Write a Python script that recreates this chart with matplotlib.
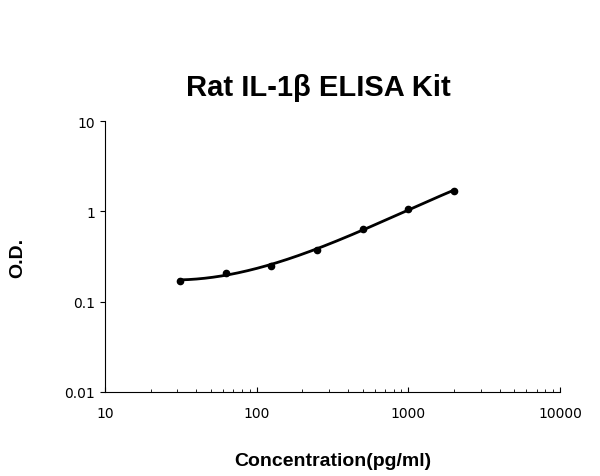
import numpy as np
import matplotlib
matplotlib.use("Agg")
import matplotlib.pyplot as plt

conc = [31.25, 62.5, 125, 250, 500, 1000, 2000]
od = [0.17, 0.21, 0.25, 0.37, 0.64, 1.05, 1.70]

fig = plt.figure(figsize=(6, 4.77), dpi=100)
ax = fig.add_axes([105/600, 1-393/477, 455/600, 271/477])
lx, ly = np.log10(conc), np.log10(od)
c = np.polyfit(lx, ly, 3)
xs = np.linspace(lx[0], lx[-1], 200)
ax.plot(10**xs, 10**np.polyval(c, xs), color='black', lw=2)
ax.plot(conc, od, 'o', color='black', ms=4.5)
ax.set_xscale('log'); ax.set_yscale('log')
ax.set_xlim(10, 10000); ax.set_ylim(0.01, 10)
ax.set_xticks([10, 100, 1000, 10000]); ax.set_xticklabels(['10', '100', '1000', '10000'])
ax.set_yticks([0.01, 0.1, 1, 10]); ax.set_yticklabels(['0.01', '0.1', '1', '10'])
ax.tick_params(axis='x', which='both', direction='in', labelsize=10, pad=10)
ax.tick_params(axis='y', which='both', direction='out', labelsize=10)
ax.tick_params(axis='y', which='minor', length=0)
for s in ['top', 'right']:
    ax.spines[s].set_visible(False)
fig.text(0.53, 1-88/477, 'Rat IL-1β ELISA Kit', ha='center', va='center', fontsize=21, fontweight='bold', family='Liberation Sans')
fig.text(0.555, 1-462/477, 'Concentration(pg/ml)', ha='center', va='center', fontsize=14, fontweight='bold', family='Liberation Sans')
fig.text(18/600, 1-258/477, 'O.D.', ha='center', va='center', rotation=90, fontsize=14, fontweight='bold', family='Liberation Sans')
fig.savefig('out.png', dpi=100)
